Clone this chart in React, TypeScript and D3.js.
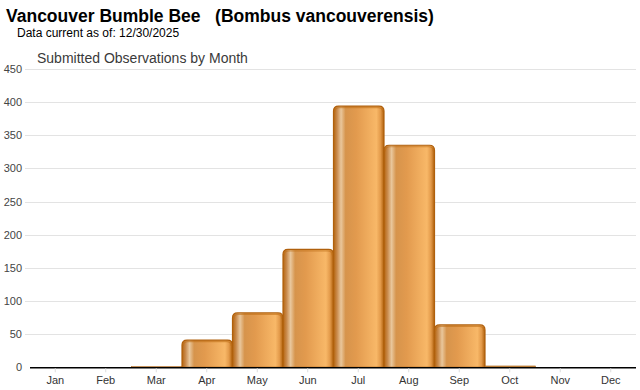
import React from 'react'
import * as d3 from 'd3'

const months = ['Jan', 'Feb', 'Mar', 'Apr', 'May', 'Jun', 'Jul', 'Aug', 'Sep', 'Oct', 'Nov', 'Dec']
const observations = [0, 0, 1, 41, 82, 178, 394, 335, 64, 2, 0, 0]
const yTicks = [0, 50, 100, 150, 200, 250, 300, 350, 400, 450]

const width = 640
const height = 390
const margin = { top: 69, right: 4, bottom: 22, left: 30 }

const App = () => {
  const x = d3.scaleBand<string>()
    .domain(months)
    .range([margin.left, width - margin.right])
    .padding(0)

  const y = d3.scaleLinear()
    .domain([0, 450])
    .range([height - margin.bottom - 0.7, margin.top])

  const r = 5
  // bar outline with rounded top corners only (closed = full shape, open = just the cap)
  const barPath = (x0: number, x1: number, top: number, base: number, closed = true) => {
    const h = base - top
    const rr = Math.min(r, h, (x1 - x0) / 2)
    const p = d3.path()
    p.moveTo(x0, base)
    p.lineTo(x0, top + rr)
    p.quadraticCurveTo(x0, top, x0 + rr, top)
    p.lineTo(x1 - rr, top)
    p.quadraticCurveTo(x1, top, x1, top + rr)
    p.lineTo(x1, base)
    if (closed) p.closePath()
    return p.toString()
  }

  const base = y(0)

  return (
    <svg width={width} height={height}
      style={{ position: 'absolute', left: 0, top: 0, background: '#fff' }}>
      <defs>
        <linearGradient id='barFill' x1='0' x2='1' y1='0' y2='0'>
          <stop offset='0' stopColor='#b5650f' />
          <stop offset='0.07' stopColor='#c98a4c' />
          <stop offset='0.15' stopColor='#e9c79c' />
          <stop offset='0.24' stopColor='#d6944c' />
          <stop offset='0.45' stopColor='#e29a4e' />
          <stop offset='0.85' stopColor='#f8b868' />
          <stop offset='0.93' stopColor='#e39a4a' />
          <stop offset='1' stopColor='#b0600c' />
        </linearGradient>
      </defs>

      <text x={6} y={22} fontFamily='Liberation Sans, Arial, sans-serif'
        fontWeight='bold' fontSize={17.5} fill='#000' style={{ whiteSpace: 'pre' }}>
        {'Vancouver Bumble Bee   (Bombus vancouverensis)'}
      </text>
      <text x={17} y={37} fontFamily='Liberation Sans, Arial, sans-serif'
        fontSize={12} fill='#000'>Data current as of: 12/30/2025</text>
      <text x={37} y={63} fontFamily='Liberation Sans, Arial, sans-serif'
        fontSize={14} fill='#3a3a3a'>Submitted Observations by Month</text>

      {/* grid + y labels */}
      {yTicks.map(t => (
        <g key={t}>
          {t > 0 && <line x1={25} x2={width - margin.right} y1={Math.round(y(t)) + 0.5}
            y2={Math.round(y(t)) + 0.5} stroke='#e3e3e3' strokeWidth={1} />}
          <text x={22} y={y(t) + 4} textAnchor='end' fontSize={11}
            fontFamily='Liberation Sans, Arial, sans-serif' fill='#444'>{t}</text>
        </g>
      ))}

      {/* bars */}
      {months.map((m, i) => {
        const v = observations[i]
        if (!v) return null
        const x0 = x(m)! + 0.5
        const x1 = x(m)! + x.bandwidth() + 0.5
        const top = y(v)
        if (base - top < 4) {
          return <rect key={m} x={x0} y={top} width={x1 - x0} height={base - top}
            fill='#c0853f' stroke='#b06a20' strokeWidth={0.6} />
        }
        return (
          <g key={m}>
            <path d={barPath(x0, x1, top, base)} fill='url(#barFill)'
              stroke='#b0600c' strokeWidth={1.2} />
            <path d={barPath(x0 + 1.2, x1 - 1.2, top + 1.5, top + 6, false)} fill='none'
              stroke='#c06f18' strokeWidth={1.2} opacity={0.6} />
          </g>
        )
      })}

      {/* x axis */}
      <line x1={margin.left} x2={width - margin.right} y1={base + 0.5} y2={base + 0.5}
        stroke='#000' strokeWidth={1.5} />
      {months.map(m => {
        const cx = x(m)! + x.bandwidth() / 2
        return (
          <g key={m}>
            <line x1={cx} x2={cx} y1={base + 1} y2={base + 5} stroke='#ddd' />
            <text x={cx} y={base + 17} textAnchor='middle' fontSize={11}
              fontFamily='Liberation Sans, Arial, sans-serif' fill='#333'>{m}</text>
          </g>
        )
      })}
    </svg>
  )
}

export default App
